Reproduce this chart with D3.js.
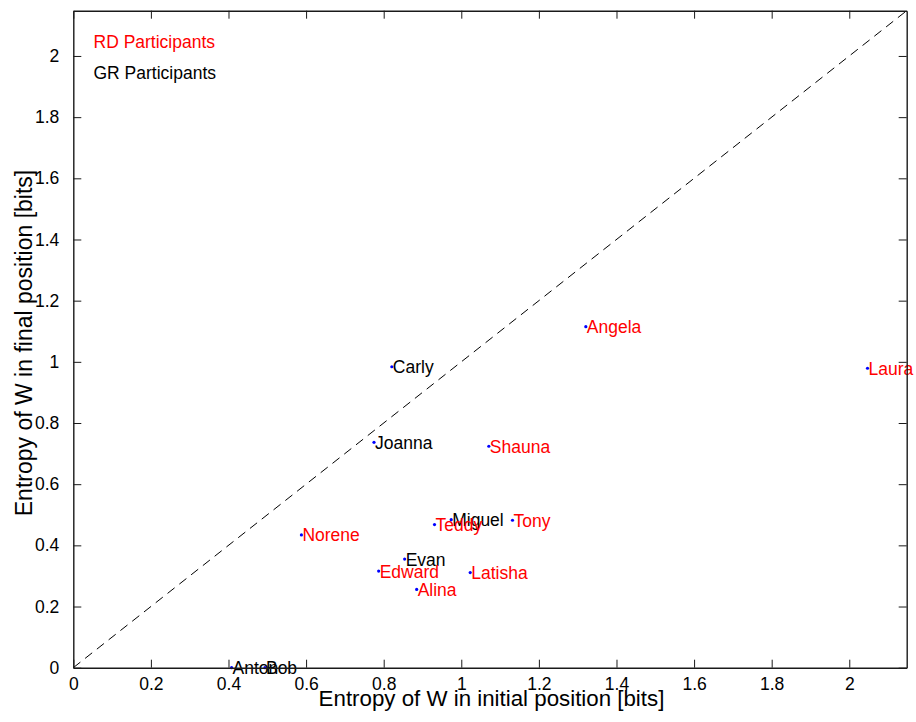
<!DOCTYPE html>
<html>
<head>
<meta charset="utf-8">
<script src="https://cdn.jsdelivr.net/npm/d3@7"></script>
<style>
  html, body { margin: 0; padding: 0; background: #fff; }
  svg { display: block; }
  text { font-family: "Liberation Sans", Arial, Helvetica, sans-serif; }
</style>
</head>
<body>
<svg id="chart" width="916" height="722"></svg>
<script>
// ---- data ----
const names   = ["Carly", "Joanna", "Shauna", "Angela", "Laura", "Norene", "Miguel", "Tony", "Teddy", "Evan", "Edward", "Latisha", "Alina", "Anton", "Bob"];
const groups  = ["GR", "GR", "RD", "RD", "RD", "RD", "GR", "RD", "RD", "GR", "RD", "RD", "RD", "GR", "GR"];
const xValues = [0.821, 0.775, 1.071, 1.321, 2.047, 0.588, 0.974, 1.132, 0.931, 0.854, 0.787, 1.023, 0.885, 0.408, 0.494];
const yValues = [0.984, 0.737, 0.724, 1.115, 0.979, 0.434, 0.484, 0.482, 0.468, 0.355, 0.316, 0.311, 0.256, 0.0, 0.0];
const xTicks  = [0, 0.2, 0.4, 0.6, 0.8, 1, 1.2, 1.4, 1.6, 1.8, 2];
const yTicks  = [0, 0.2, 0.4, 0.6, 0.8, 1, 1.2, 1.4, 1.6, 1.8, 2];
const legendLabels = ["RD Participants", "GR Participants"];
const legendGroups = ["RD", "GR"];
const axisMax = 2.148;

// ---- layout ----
const svg = d3.select("#chart");
const mL = 73.3, mR = 906.7, mT = 10.7, mB = 667.7;
const x = d3.scaleLinear().domain([0, axisMax]).range([mL, mR]);
const y = d3.scaleLinear().domain([0, axisMax]).range([mB, mT]);
const color = d3.scaleOrdinal().domain(["RD", "GR"]).range(["#ff0000", "#000000"]);
const fmt = d => d3.format("~g")(d);
const fs = 17.5;

// diagonal
svg.append("line")
  .attr("x1", x(0)).attr("y1", y(0))
  .attr("x2", x(axisMax)).attr("y2", y(axisMax))
  .attr("stroke", "#000").attr("stroke-width", 1)
  .attr("stroke-dasharray", "9,6");

// points & labels
const pts = d3.range(names.length).map(i => ({ n: names[i], g: groups[i], x: xValues[i], y: yValues[i] }));
svg.append("g").selectAll("text").data(pts).join("text")
  .attr("x", d => x(d.x) + 1)
  .attr("y", d => y(d.y) + 6.5)
  .attr("fill", d => color(d.g))
  .attr("font-size", fs)
  .text(d => d.n);
svg.append("g").selectAll("circle").data(pts).join("circle")
  .attr("cx", d => x(d.x)).attr("cy", d => y(d.y))
  .attr("r", 1.6).attr("fill", "#0000ff");

// axes (box with inward ticks)
const tickLen = 8;
const gB = svg.append("g").attr("transform", `translate(0,${mB})`)
  .call(d3.axisBottom(x).tickValues(xTicks).tickFormat(fmt).tickSizeInner(-tickLen).tickSizeOuter(0).tickPadding(10));
const gT = svg.append("g").attr("transform", `translate(0,${mT})`)
  .call(d3.axisTop(x).tickValues(xTicks).tickFormat("").tickSizeInner(-tickLen).tickSizeOuter(0));
const gL = svg.append("g").attr("transform", `translate(${mL},0)`)
  .call(d3.axisLeft(y).tickValues(yTicks).tickFormat(fmt).tickSizeInner(-tickLen).tickSizeOuter(0).tickPadding(14));
const gR = svg.append("g").attr("transform", `translate(${mR},0)`)
  .call(d3.axisRight(y).tickValues(yTicks).tickFormat("").tickSizeInner(-tickLen).tickSizeOuter(0));
[gB, gT, gL, gR].forEach(g => {
  g.selectAll(".domain").attr("stroke", "#1a1a1a").attr("stroke-width", 1.4);
  g.selectAll(".tick line").attr("stroke", "#1a1a1a").attr("stroke-width", 1);
  g.selectAll("text").attr("font-size", fs).attr("fill", "#000")
    .attr("font-family", "'Liberation Sans', Arial, sans-serif");
});

// axis titles
svg.append("text")
  .attr("x", 491.5).attr("y", 706)
  .attr("text-anchor", "middle").attr("font-size", 22.3)
  .text("Entropy of W in initial position [bits]");
svg.append("text")
  .attr("transform", `translate(31.5,343) rotate(-90)`)
  .attr("text-anchor", "middle").attr("font-size", 23)
  .text("Entropy of W in final position [bits]");

// legend
svg.append("g").selectAll("text").data(legendLabels).join("text")
  .attr("x", 93.5)
  .attr("y", (d, i) => 48 + i * 30.8)
  .attr("fill", (d, i) => color(legendGroups[i]))
  .attr("font-size", fs)
  .text(d => d);
</script>
</body>
</html>
